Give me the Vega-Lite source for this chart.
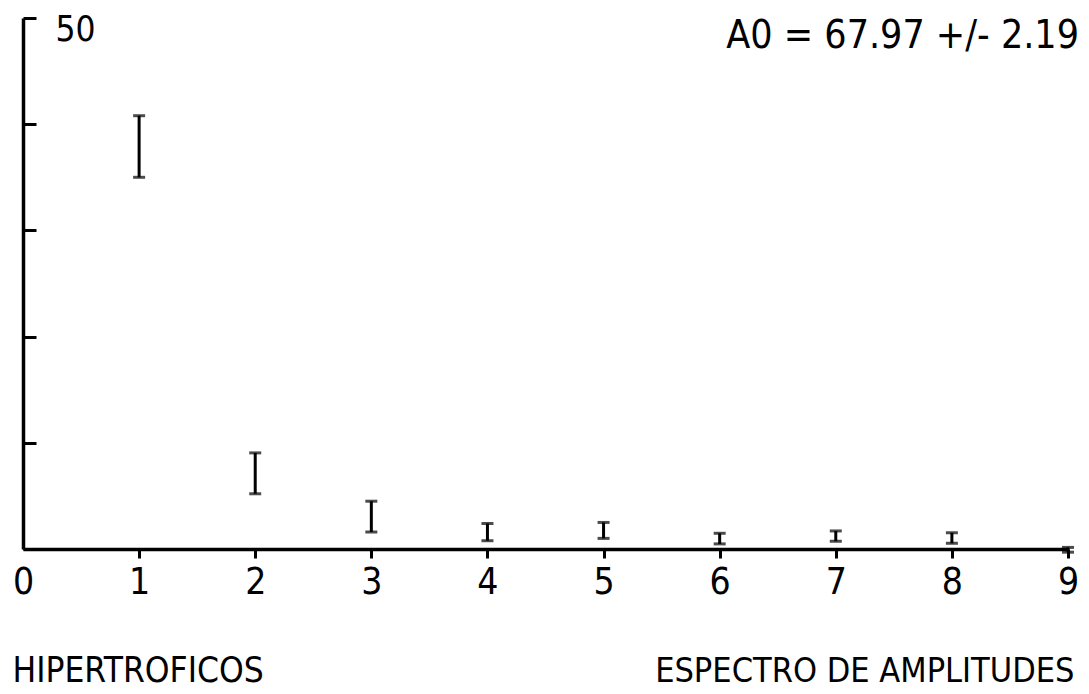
{
  "$schema": "https://vega.github.io/schema/vega-lite/v6.json",
  "width": 1045,
  "height": 531,
  "autosize": "none",
  "padding": {"left": 23, "top": 18, "right": 21, "bottom": 145},
  "background": "white",
  "config": {
    "view": {"stroke": null},
    "font": "Liberation Sans Narrow, DejaVu Sans Condensed, sans-serif"
  },
  "data": {
    "values": [
      {"k": 1, "lo": 35.0, "hi": 40.8},
      {"k": 2, "lo": 5.2, "hi": 9.05},
      {"k": 3, "lo": 1.6, "hi": 4.5},
      {"k": 4, "lo": 0.78, "hi": 2.4},
      {"k": 5, "lo": 1.0, "hi": 2.5},
      {"k": 6, "lo": 0.48, "hi": 1.48},
      {"k": 7, "lo": 0.73, "hi": 1.7},
      {"k": 8, "lo": 0.54, "hi": 1.53},
      {"k": 9, "lo": -0.3, "hi": 0.15}
    ]
  },
  "layer": [
    {
      "mark": {"type": "rule", "color": "black", "strokeWidth": 3},
      "encoding": {
        "x": {
          "field": "k",
          "type": "quantitative",
          "scale": {"domain": [0, 9], "nice": false, "zero": false},
          "axis": {
            "values": [0, 1, 2, 3, 4, 5, 6, 7, 8, 9],
            "format": "d",
            "grid": false,
            "domainColor": "black",
            "domainWidth": 3.5,
            "tickColor": "black",
            "tickWidth": 3,
            "tickSize": 9,
            "tickOpacity": {"condition": {"test": "datum.value == 0", "value": 0}, "value": 1},
            "labelFontSize": 37,
            "labelColor": "black",
            "labelPadding": 6,
            "labelFlush": false,
            "labelOverlap": false,
            "labelBaseline": "top",
            "title": "ESPECTRO DE AMPLITUDES",
            "titleFontSize": 34,
            "titleFontWeight": "normal",
            "titleColor": "black",
            "titleAlign": "right",
            "titleAnchor": "end",
            "titleBaseline": "alphabetic",
            "titleX": 1051,
            "titleY": 132
          }
        },
        "y": {
          "field": "lo",
          "type": "quantitative",
          "scale": {"domain": [0, 50], "nice": false, "zero": false},
          "axis": {
            "values": [0, 10, 20, 30, 40, 50],
            "grid": false,
            "domainColor": "black",
            "domainWidth": 3.5,
            "tickColor": "black",
            "tickWidth": 3,
            "tickSize": -13,
            "labelExpr": "datum.value == 50 ? '50' : ''",
            "labelAlign": "left",
            "labelBaseline": "top",
            "labelPadding": -19,
            "labelOffset": -6,
            "labelFontSize": 35,
            "labelColor": "black",
            "labelFlush": false,
            "labelOverlap": false,
            "labelBound": false,
            "title": "HIPERTROFICOS",
            "titleAngle": 0,
            "titleFontSize": 35,
            "titleFontWeight": "normal",
            "titleColor": "black",
            "titleAlign": "left",
            "titleAnchor": "start",
            "titleBaseline": "alphabetic",
            "titleX": -11,
            "titleY": 663
          }
        },
        "y2": {"field": "hi"}
      }
    },
    {
      "mark": {"type": "tick", "orient": "horizontal", "color": "black", "size": 12, "thickness": 3},
      "encoding": {
        "x": {"field": "k", "type": "quantitative"},
        "y": {"field": "lo", "type": "quantitative"}
      }
    },
    {
      "mark": {"type": "tick", "orient": "horizontal", "color": "black", "size": 12, "thickness": 3},
      "encoding": {
        "x": {"field": "k", "type": "quantitative"},
        "y": {"field": "hi", "type": "quantitative"}
      }
    },
    {
      "data": {"values": [{"k": 9, "lo": 50, "label": "A0 = 67.97 +/- 2.19"}]},
      "mark": {"type": "text", "align": "right", "baseline": "alphabetic", "fontSize": 39, "color": "black", "dx": 11, "dy": 30},
      "encoding": {
        "x": {"field": "k", "type": "quantitative"},
        "y": {"field": "lo", "type": "quantitative"},
        "text": {"field": "label"}
      }
    }
  ]
}
